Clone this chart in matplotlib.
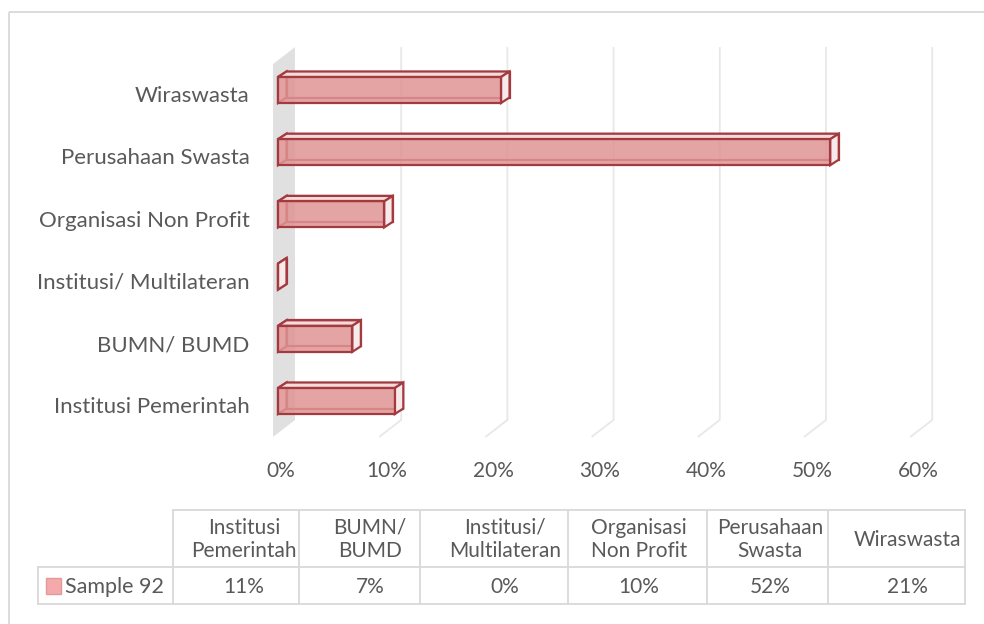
import matplotlib
matplotlib.use("Agg")
import matplotlib.pyplot as plt
from matplotlib.patches import Polygon, Rectangle

# ---------------- data ----------------
categories = ["Institusi Pemerintah", "BUMN/ BUMD", "Institusi/ Multilateran",
              "Organisasi Non Profit", "Perusahaan Swasta", "Wiraswasta"]
table_headers = ["Institusi\nPemerintah", "BUMN/\nBUMD", "Institusi/\nMultilateran",
                 "Organisasi\nNon Profit", "Perusahaan\nSwasta", "Wiraswasta"]
values = [11, 7, 0, 10, 52, 21]
value_labels = ["11%", "7%", "0%", "10%", "52%", "21%"]
series_name = "Sample 92"
xticks = [0, 10, 20, 30, 40, 50, 60]
xtick_labels = ["0%", "10%", "20%", "30%", "40%", "50%", "60%"]

# ---------------- style ----------------
FONT = "Lato"
TXT = "#595959"
GRID = "#D9D9D9"
EDGE = "#A33A3F"
FRONT = "#E09494"
TOP = "#F4DADA"
SIDE = "#F8EAEA"
SWATCH = "#F4AAAA"
FS_CAT = 16
FS_TICK = 15
FS_TAB = 15

W, H = 984, 624
fig = plt.figure(figsize=(W / 100, H / 100), dpi=100)

# pixel <-> data mapping for the plotting axes (layout only)
X0, SX = 278.0, 10.62
Y0, SY = 401.0, 62.2
ax = fig.add_axes([0, 0, 1, 1])
ax.set_xlim((0 - X0) / SX, (W - X0) / SX)
ax.set_ylim((Y0 - H) / SY, (Y0 - 0) / SY)
ax.axis("off")

# depth offsets (data units)
bdx, bdy = 8.5 / SX, 5.5 / SY          # bar depth
wfx, wbx = -5.0 / SX, 17.0 / SX         # wall front/back x offset
wdy = 17.0 / SY                         # wall depth in y
grid_top = 5.69
grid_bot_back = -0.305
grid_bot_front = grid_bot_back - wdy

# side wall at 0
wall = Polygon([(wfx, grid_bot_front), (wbx, grid_bot_back),
                (wbx, grid_top), (wfx, grid_top - wdy)],
               closed=True, facecolor="#E0E0E0", edgecolor="none", zorder=1)
ax.add_patch(wall)

# gridlines
for t in xticks[1:]:
    ax.plot([t + wbx, t + wbx, t + wfx], [grid_top, grid_bot_back, grid_bot_front],
            color="#E8E8E8", lw=1.3, zorder=2, solid_capstyle="butt")

# tick labels
for t, lab in zip(xticks, xtick_labels):
    ax.text(t + 0.28, -1.12, lab, ha="center", va="center", fontsize=FS_TICK,
            color=TXT, family=FONT)

# category labels
for i, c in enumerate(categories):
    ax.text(-2.65, i - 0.1, c, ha="right", va="center", fontsize=FS_CAT,
            color=TXT, family=FONT)

# 3D bars
bh = 26.0 / SY
for i, v in enumerate(values):
    yb, yt = i - bh / 2, i + bh / 2
    z = 5 + i * 0.01
    kw = dict(closed=True, edgecolor=EDGE, lw=1.6, joinstyle="miter")
    # back face (outline only)
    ax.add_patch(Polygon([(bdx, yb + bdy), (v + bdx, yb + bdy),
                          (v + bdx, yt + bdy), (bdx, yt + bdy)],
                         facecolor="none", zorder=z, **kw))
    # left face
    ax.add_patch(Polygon([(0, yb), (bdx, yb + bdy), (bdx, yt + bdy), (0, yt)],
                         facecolor=SIDE, zorder=z, **kw))
    # top face
    ax.add_patch(Polygon([(0, yt), (v, yt), (v + bdx, yt + bdy), (bdx, yt + bdy)],
                         facecolor=TOP, zorder=z, **kw))
    # right face
    ax.add_patch(Polygon([(v, yb), (v + bdx, yb + bdy), (v + bdx, yt + bdy), (v, yt)],
                         facecolor=SIDE, zorder=z, **kw))
    # front face (semi-transparent, hidden edges show through)
    ax.add_patch(Polygon([(0, yb), (v, yb), (v, yt), (0, yt)],
                         facecolor=FRONT, alpha=0.85, zorder=z + 0.001,
                         edgecolor="none"))
    ax.add_patch(Polygon([(0, yb), (v, yb), (v, yt), (0, yt)],
                         facecolor="none", zorder=z + 0.002, **kw))

# ---------------- frame + data table (pixel overlay) ----------------
ov = fig.add_axes([0, 0, 1, 1], facecolor="none")
ov.set_xlim(0, W)
ov.set_ylim(H, 0)
ov.axis("off")

ov.add_patch(Rectangle((8.5, 11.5), W + 10, H + 10, facecolor="none",
                       edgecolor="#D9D9D9", lw=1.3, zorder=0))

col_edges = [173, 299, 420, 568, 707, 828, 965]
text_cx = [244, 370, 505, 639, 770, 907]
top_y, mid_y, bot_y = 510, 567, 604
left_x = 38
lc = dict(color=GRID, lw=1.3, solid_capstyle="projecting", zorder=3)
ov.plot([col_edges[0], col_edges[-1]], [top_y, top_y], **lc)
ov.plot([left_x, col_edges[-1]], [mid_y, mid_y], **lc)
ov.plot([left_x, col_edges[-1]], [bot_y, bot_y], **lc)
ov.plot([left_x, left_x], [mid_y, bot_y], **lc)
for xe in col_edges:
    ov.plot([xe, xe], [top_y, bot_y], **lc)

for cx, hdr, vl in zip(text_cx, table_headers, value_labels):
    ov.text(cx, (top_y + mid_y) / 2 + 1, hdr, ha="center", va="center",
            fontsize=FS_TAB, color=TXT, family=FONT, linespacing=1.2)
    ov.text(cx, (mid_y + bot_y) / 2 + 1.5, vl, ha="center", va="center",
            fontsize=FS_TAB, color=TXT, family=FONT)

ov.add_patch(Rectangle((46, 578), 15, 16, facecolor=SWATCH, edgecolor="#E49A9A",
                       lw=1.0, zorder=4))
ov.text(65, (mid_y + bot_y) / 2 + 1.5, series_name, ha="left", va="center",
        fontsize=FS_TAB + 0.5, color=TXT, family=FONT)

fig.savefig("out.png", dpi=100)
